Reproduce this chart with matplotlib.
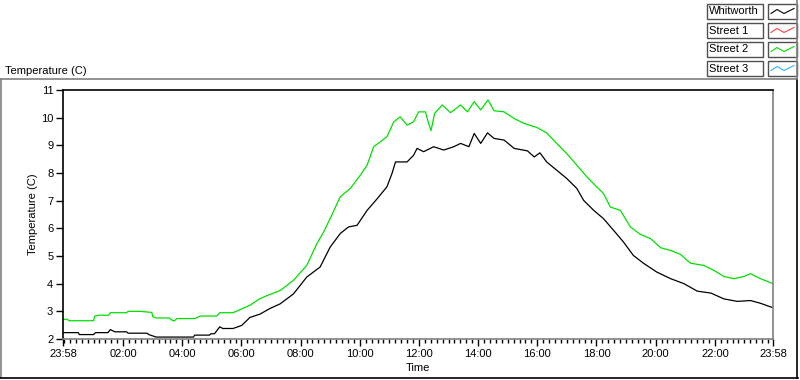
import matplotlib
matplotlib.use("Agg")
import matplotlib.pyplot as plt
from matplotlib.lines import Line2D
from matplotlib.patches import Rectangle
from matplotlib.ticker import FixedLocator
import numpy as np

plt.rcParams['font.family'] = ['Liberation Sans', 'DejaVu Sans']

# ---- data: hours since 23:58 start, temperature (C) ----
street2_hours = [0.0, 0.14, 0.2, 1.03, 1.08, 1.2, 1.54, 1.6, 2.15, 2.2, 2.6, 3.0, 3.04, 3.15, 3.6, 3.65,
                 3.76, 3.85, 4.47, 4.63, 5.2, 5.3, 5.75, 5.98, 6.32, 6.66, 6.99, 7.34, 7.79, 8.24, 8.58,
                 8.81, 9.03, 9.37, 9.71, 10.05, 10.28, 10.5, 10.73, 10.95, 11.18, 11.4, 11.63, 11.85,
                 12.02, 12.25, 12.36, 12.44, 12.56, 12.82, 13.1, 13.44, 13.67, 13.9, 14.12, 14.37,
                 14.57, 14.91, 15.25, 15.59, 16.01, 16.35, 16.69, 17.03, 17.37, 17.71, 18.04, 18.27,
                 18.5, 18.84, 19.18, 19.52, 19.86, 20.2, 20.54, 20.87, 21.21, 21.66, 22.0, 22.34,
                 22.68, 23.02, 23.24, 23.58, 24.0]
street2_temp = [2.70, 2.72, 2.66, 2.66, 2.83, 2.86, 2.86, 2.95, 2.95, 3.00, 3.00, 2.96, 2.80, 2.76, 2.76,
                2.70, 2.65, 2.74, 2.74, 2.83, 2.83, 2.95, 2.95, 3.06, 3.22, 3.46, 3.61, 3.75, 4.12,
                4.66, 5.44, 5.87, 6.35, 7.14, 7.44, 7.92, 8.28, 8.95, 9.13, 9.31, 9.85, 10.03, 9.73,
                9.85, 10.21, 10.21, 9.79, 9.53, 10.15, 10.46, 10.18, 10.46, 10.21, 10.58, 10.28,
                10.64, 10.25, 10.21, 9.97, 9.79, 9.65, 9.45, 9.07, 8.70, 8.28, 7.86, 7.50, 7.26,
                6.77, 6.65, 6.05, 5.78, 5.63, 5.30, 5.20, 5.06, 4.74, 4.66, 4.48, 4.26, 4.18, 4.26,
                4.36, 4.18, 4.00]

whitworth_hours = [0.0, 0.52, 0.55, 1.03, 1.1, 1.52, 1.6, 1.75, 2.15, 2.2, 2.84, 2.9, 3.15, 4.41, 4.45,
                   4.95, 5.0, 5.12, 5.3, 5.4, 5.75, 6.04, 6.32, 6.66, 6.99, 7.34, 7.79, 8.24, 8.69,
                   9.03, 9.37, 9.65, 9.94, 10.28, 10.62, 10.95, 11.12, 11.24, 11.63, 11.85, 11.97,
                   12.19, 12.53, 12.87, 13.21, 13.44, 13.72, 13.9, 14.12, 14.35, 14.57, 14.91, 15.25,
                   15.7, 15.93, 16.12, 16.35, 16.69, 17.03, 17.37, 17.6, 17.94, 18.27, 18.61, 18.95,
                   19.28, 19.62, 20.07, 20.54, 20.99, 21.44, 21.9, 22.34, 22.79, 23.24, 23.58, 24.0]
whitworth_temp = [2.23, 2.23, 2.16, 2.16, 2.23, 2.23, 2.34, 2.26, 2.26, 2.21, 2.21, 2.16, 2.07, 2.07,
                  2.14, 2.14, 2.19, 2.19, 2.44, 2.38, 2.38, 2.49, 2.78, 2.90, 3.10, 3.27, 3.63, 4.24,
                  4.60, 5.32, 5.81, 6.05, 6.11, 6.65, 7.07, 7.50, 7.98, 8.40, 8.40, 8.64, 8.89, 8.77,
                  8.95, 8.83, 8.95, 9.07, 8.95, 9.43, 9.07, 9.45, 9.25, 9.19, 8.89, 8.80, 8.58, 8.73,
                  8.40, 8.10, 7.80, 7.44, 7.01, 6.65, 6.35, 5.93, 5.50, 5.02, 4.74, 4.42, 4.18, 4.00,
                  3.73, 3.66, 3.45, 3.36, 3.39, 3.29, 3.13]

legend_names = ["Whitworth", "Street 1", "Street 2", "Street 3"]
legend_colors = ["#000000", "#ff4040", "#00e000", "#30b0ff"]

x_tick_pos = [0, 2.0333, 4.0333, 6.0333, 8.0333, 10.0333, 12.0333, 14.0333, 16.0333, 18.0333,
              20.0333, 22.0333, 24]
x_tick_labels = ["23:58", "02:00", "04:00", "06:00", "08:00", "10:00", "12:00", "14:00", "16:00",
                 "18:00", "20:00", "22:00", "23:58"]
y_ticks = [2, 3, 4, 5, 6, 7, 8, 9, 10, 11]

W, H = 800, 380
def fx(px): return px / W
def fy(py): return 1 - py / H

fig = plt.figure(figsize=(8, 3.8), dpi=100)
fig.patch.set_facecolor("white")
FS = 8
GRAY = "#808080"

# panel frame
fig.add_artist(Line2D([fx(0), fx(797)], [fy(79), fy(79)], color=GRAY, lw=1.2))
fig.add_artist(Line2D([fx(1), fx(1)], [fy(79), fy(378)], color=GRAY, lw=1.2))
fig.add_artist(Line2D([fx(0), fx(798)], [fy(378), fy(378)], color="black", lw=1.2))
fig.add_artist(Line2D([fx(797), fx(797)], [fy(79), fy(378)], color="black", lw=1.2))
fig.add_artist(Line2D([fx(797), fx(797)], [fy(0), fy(79)], color=GRAY, lw=1.2))

ax = fig.add_axes([fx(63), fy(339), fx(773) - fx(63), fy(90) - fy(339)])
ax.plot(whitworth_hours, whitworth_temp, color=legend_colors[0], lw=0.9)
ax.plot(street2_hours, street2_temp, color=legend_colors[2], lw=0.9)
ax.set_xlim(0, 24)
ax.set_ylim(2, 11)
ax.set_yticks(y_ticks)
ax.set_yticklabels([str(v) for v in y_ticks], fontsize=FS)
ax.set_xticks(x_tick_pos)
ax.set_xticklabels(x_tick_labels, fontsize=FS)
minor = np.arange(1 / 30, 24, 0.2)
ax.xaxis.set_minor_locator(FixedLocator(minor))
ax.tick_params(axis="x", which="major", length=5, width=1, pad=2, direction="out")
ax.tick_params(axis="x", which="minor", length=3, width=1, direction="out")
ax.tick_params(axis="y", which="major", length=5, width=1, pad=2, direction="out")
for s in ["left", "top"]:
    ax.spines[s].set_color("black")
    ax.spines[s].set_linewidth(1.2)
for s in ["right", "bottom"]:
    ax.spines[s].set_color(GRAY)
    ax.spines[s].set_linewidth(1.2)
ax.set_xlabel("Time", fontsize=FS, labelpad=3)
ax.set_ylabel("Temperature (C)", fontsize=FS)
ax.yaxis.set_label_coords((38 - 63) / 710, 0.5)

fig.text(fx(5), fy(71), "Temperature (C)", fontsize=FS, ha="left", va="center")

# legend
rows = [(4, 19), (23, 38), (42, 57), (61, 76)]
for (t, b), name, col in zip(rows, legend_names, legend_colors):
    fig.add_artist(Rectangle((fx(707), fy(b)), fx(763) - fx(707), fy(t) - fy(b),
                             fill=True, facecolor="white", edgecolor="#505050", lw=1.0))
    fig.add_artist(Rectangle((fx(768), fy(b)), fx(797) - fx(768), fy(t) - fy(b),
                             fill=True, facecolor="white", edgecolor="#505050", lw=1.0))
    fig.text(fx(709), fy((t + b) / 2), name, fontsize=FS, ha="left", va="center")
    c = (t + b) / 2
    zx = [771, 777, 784, 788, 794]
    zy = [c + 2, c - 2, c + 2, c, c - 3]
    fig.add_artist(Line2D([fx(v) for v in zx], [fy(v) for v in zy], color=col, lw=0.8))

fig.savefig("out.png", dpi=100)
